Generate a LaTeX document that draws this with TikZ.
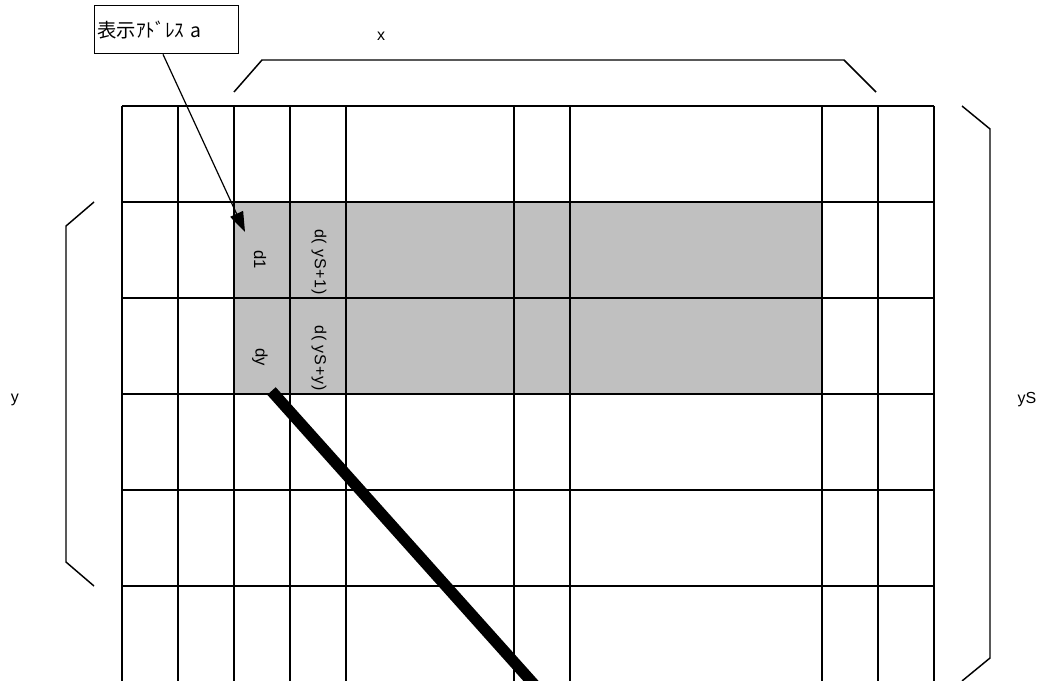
\documentclass[tikz,border=0pt]{standalone}
\usepackage{fontspec}
\setmainfont{Liberation Sans}
\newfontfamily\jpfont{Noto Sans CJK JP}
\newfontfamily\widefont[LetterSpace=5]{Liberation Sans}
\usetikzlibrary{arrows.meta}
\tikzset{
  gridline/.style={line width=1.1pt},
  bracket/.style={line width=1.1pt},
  cellfill/.style={fill={rgb,255:red,192;green,192;blue,192}},
  axislabel/.style={anchor=base,font=\fontsize{12}{14}\selectfont},
  celltext/.style={rotate=-90,inner sep=0pt,font=\fontsize{12.5}{14}\selectfont},
  widetext/.style={rotate=-90,inner sep=0pt,font=\widefont\fontsize{12}{14}\selectfont},
  addrbox/.style={draw,line width=1pt,anchor=north west,minimum height=36pt,
    text width=104pt,inner xsep=2pt,align=left,font=\jpfont\fontsize{14.5}{16}\selectfont},
  pointer/.style={line width=0.9pt,-{Triangle[length=15pt,width=10.5pt]}}
}
\begin{document}
\begin{tikzpicture}[x=0.75pt,y=-0.75pt]
\useasboundingbox (0,0) rectangle (1045,681);
\clip (0,0) rectangle (1045,681);
% shaded block
\fill[cellfill] (234,202) rectangle (822,394);
% memory grid
\foreach \gx in {122,178,234,290,346,514,570,822,878,934}
  \draw[gridline] (\gx,106) -- (\gx,690);
\foreach \gy in {106,202,298,394,490,586}
  \draw[gridline] (122,\gy) -- (934,\gy);
% brackets
\draw[bracket] (234,92) -- (262,60) -- (844,60) -- (876,92);
\draw[bracket] (94,202) -- (66,226) -- (66,562) -- (94,586);
\draw[bracket] (962,106) -- (990,129) -- (990,658) -- (962,681);
\node[axislabel] (xlen) at (381,41) {x};
\node[axislabel] (ylen) at (15,402) {y};
\node[axislabel] (yslen) at (1027,403) {yS};
% cell texts
\node[celltext] (d1) at (260,260) {d1};
\node[celltext] (dy) at (260,357) {dy};
\node[widetext] (dS1) at (319,262) {d( yS+1)};
\node[widetext] (dSy) at (319,358) {d( yS+y)};
% address
\node[addrbox] (addr) at (94,5) {表示ｱﾄﾞﾚｽ a};
\coordinate (first) at (245,232);
\draw[pointer] ([xshift=51.75pt]addr.south west) -- (first);
\coordinate (dyfoot) at (271.5,391);
\coordinate (offpage) at (548,700);
\draw[line width=8.5pt] (dyfoot) -- (offpage);
\end{tikzpicture}
\end{document}
